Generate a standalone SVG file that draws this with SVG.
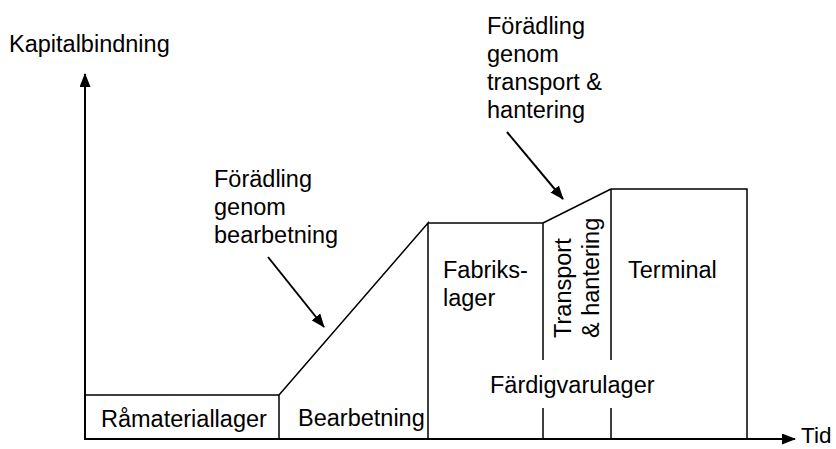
<svg xmlns="http://www.w3.org/2000/svg" width="836" height="449" viewBox="0 0 836 449">
<style>
text{font-family:"Liberation Sans",Arial,sans-serif;font-size:23.5px;fill:#000}
.ln{fill:none;stroke:#000;stroke-width:1.5}
.ax{fill:none;stroke:#000;stroke-width:2}
.ar{fill:none;stroke:#000;stroke-width:2}
</style>
<defs>
<marker id="ah2" viewBox="0 0 14 11" refX="13" refY="5.5" markerWidth="14" markerHeight="11" markerUnits="userSpaceOnUse" orient="auto">
<path d="M0,0 L14,5.5 L0,11 Z" fill="#000"/>
</marker>
</defs>
<g id="axes">
<line class="ax" x1="85" y1="439" x2="85" y2="74" marker-end="url(#ah2)"/>
<line class="ax" x1="84" y1="439" x2="795" y2="439" marker-end="url(#ah2)"/>
<text x="9" y="52">Kapitalbindning</text>
<text x="801" y="443" style="font-size:22.5px">Tid</text>
</g>
<g id="ramateriallager">
<path class="ln" d="M85,395 L279,395 L279,439"/>
<text x="101" y="427">Råmateriallager</text>
</g>
<g id="bearbetning">
<path class="ln" d="M279,395 L428,223 L428,439"/>
<text x="298" y="426">Bearbetning</text>
</g>
<g id="fabrikslager">
<path class="ln" d="M428,223 L543,223"/>
<text x="443" y="278">Fabriks-</text>
<text x="443" y="306">lager</text>
</g>
<g id="transport">
<path class="ln" d="M543,223 L543,360 M543,408 L543,439 M543,223 L611,189"/>
<text transform="translate(571,338) rotate(-90)">Transport</text>
<text transform="translate(599,338) rotate(-90)">&amp; hantering</text>
</g>
<g id="terminal">
<path class="ln" d="M611,189 L747,189 L747,439 M611,189 L611,360 M611,408 L611,439"/>
<text x="628" y="278">Terminal</text>
</g>
<g id="fardigvarulager">
<text x="490" y="393">Färdigvarulager</text>
</g>
<g id="label-bearbetning">
<text x="214" y="187">Förädling</text>
<text x="214" y="215">genom</text>
<text x="214" y="243">bearbetning</text>
</g>
<g id="label-transport">
<text x="487" y="34">Förädling</text>
<text x="487" y="62">genom</text>
<text x="487" y="90">transport &amp;</text>
<text x="487" y="118">hantering</text>
</g>
<g id="connectors">
<line class="ar" x1="268" y1="257" x2="324" y2="327" marker-end="url(#ah2)"/>
<line class="ar" x1="507" y1="132" x2="563" y2="199" marker-end="url(#ah2)"/>
</g>
</svg>
